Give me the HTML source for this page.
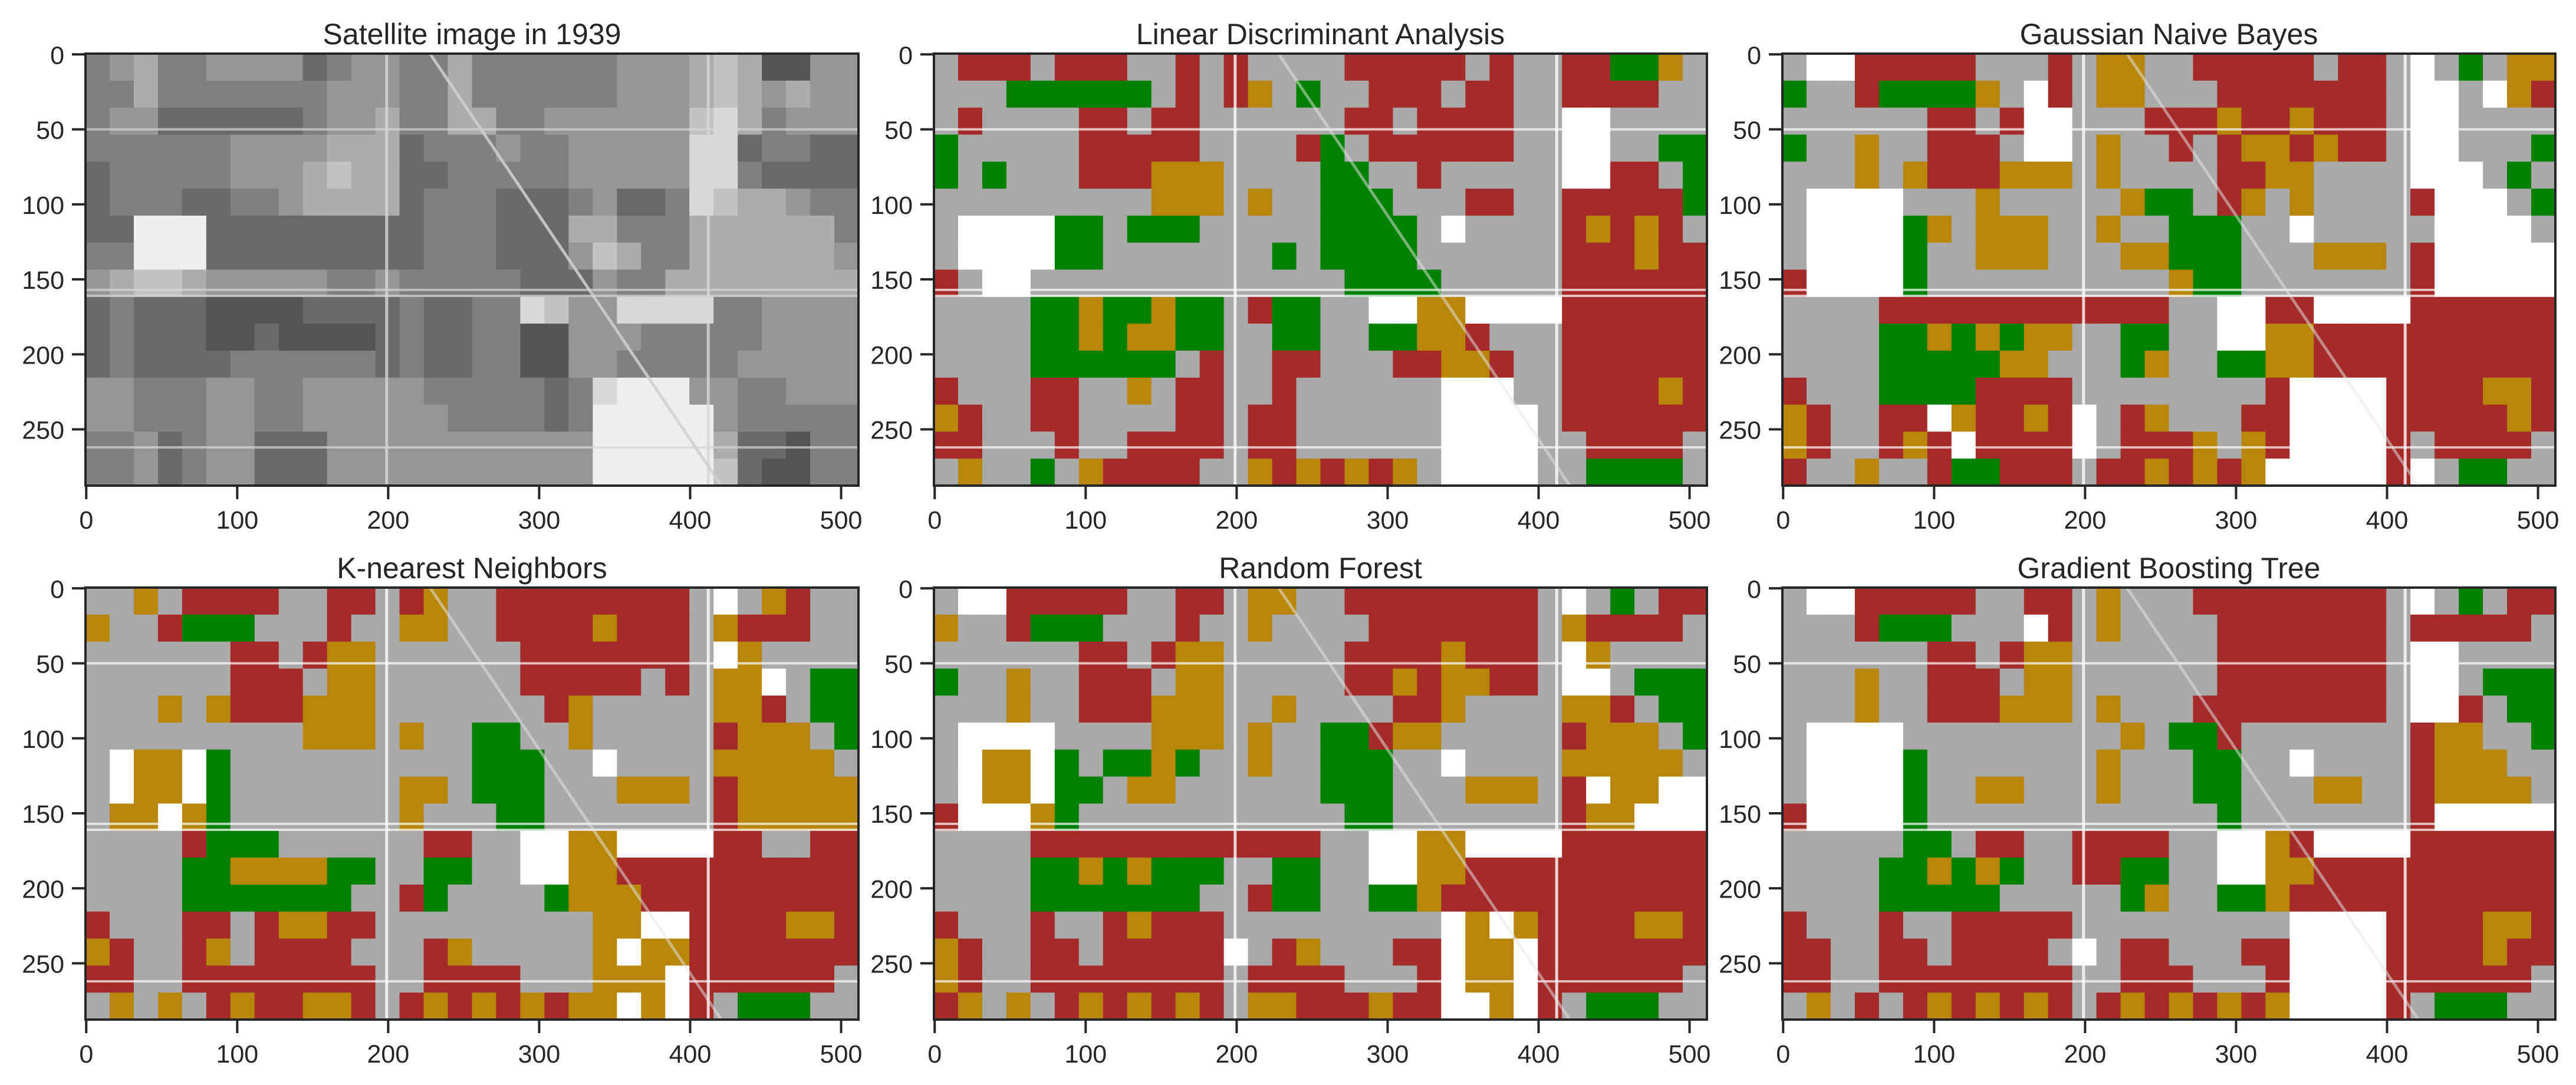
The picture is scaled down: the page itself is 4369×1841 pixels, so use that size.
<!DOCTYPE html>
<html>
<head>
<meta charset="utf-8">
<style>
  html,body{margin:0;padding:0;background:#fff;}
  svg{display:block;}
  text{font-family:"Liberation Sans",Arial,sans-serif;fill:#262626;}
</style>
</head>
<body>
<svg id="fig" width="4369" height="1841" viewBox="0 0 4369 1841" xmlns="http://www.w3.org/2000/svg"></svg>
<script>
// ---- data ----
const xTicks = [0, 100, 200, 300, 400, 500];
const yTicks = [0, 50, 100, 150, 200, 250];
const imgCols = 512;
const imgRows = 288;
const panelTitles = ["Satellite image in 1939", "Linear Discriminant Analysis", "Gaussian Naive Bayes",
                     "K-nearest Neighbors", "Random Forest", "Gradient Boosting Tree"];
const classColors = {R:"#a52a2a", O:"#b8860b", G:"#008000", S:"#a9a9a9", W:"#ffffff"};

// grayscale levels (0 dark .. 9 white) for the 1939 image, 32 cols x 16 rows
const satGrid = [
"45644555534554464444445556762255",
"44644444445554464444445556765655",
"45533333345564466445555557864555",
"44444455556663444544555558834433",
"34444455567663344444555558843333",
"34443344566663444333453348766544",
"33999333333333444333664446666664",
"44999333333333444333576446666665",
"56776555554454444433354466666666",
"34333222233334334487558888445555",
"34333223222234334422555444445555",
"34333344444434334422554444455555",
"55444554455555444443489995544555",
"55444554455555544443499999544444",
"44534553335555555555599999633244",
"44534553335555555555599999732244"
];
const ldaGrid = [
"SRRRSRRRSSRSRSSSSRRRRRSRSSRRGGOS",
"SSSGGGGGGSRSROSGSSRRRSRRSSRRRRSS",
"SRSSSSRRSRRSSSSSSRRSRRRRSSWWSSSS",
"GSSSSSRRRRRSSSSRGSRRRRRRSSWWSSGG",
"GSGSSSRRROOOSSSSGGSSRSSSSSWWRRSG",
"SSSSSSSSSOOOSOSSGGGSSSRRSSRRRRRG",
"SWWWWGGSGGGSSSSSGGGGSWSSSSRORORS",
"SWWWWGGSSSSSSSGSGGGGSSSSSSRRRORR",
"RSWWSSSSSSSSSSSSSGGGGSSSSSRRRRRR",
"SSSSGGOGGOGGSRGGSSWWOOWWWWRRRRRR",
"SSSSGGOGOOGGSSGGSSGGOORSSSRRRRRR",
"SSSSGGGGGGSRSSRRSSSRROORSSRRRRRR",
"RSSSRRSSOSRRSSRSSSSSSWWWSSRRRROR",
"ORSSRRSSSSRRSRRSSSSSSWWWWSRRRRRR",
"RRSSSRSSRRRRSRRSSSSSSWWWWSSRRRRS",
"SOSSGSORRRRSSOROROROSWWWWSSGGGGS"
];
const gnbGrid = [
"SWWRRRRRSSSRSOOSSRRRRRSRRSWSGSOO",
"GSSRGGGGOSWRSOOSSSRRRRRRRSWWSWOR",
"SSSSSSRRSRWWSSSRRRORRORRRSWWSSSS",
"GSSOSSRRRSWWSOSSRSROORORRSWWSSSG",
"SSSOSORRROOOSOSSSSRROOSSSSWWWSGS",
"SWWWWSSSOSSSSSOGGSROSOSSSSRWWWSG",
"SWWWWGOSOOOSSOSSGGGSSWSSSSSWWWWS",
"SWWWWGSSOOOSSSOOGGGSSSOOOSRWWWWW",
"RWWWWGSSSSSSSSSSOGGSSSSSSSRWWWWW",
"SSSSRRRRRRRRRRRRSSWWRRWWWWRRRRRR",
"SSSSGGOGOGOOSSGGSSWWOORRRRRRRRRR",
"SSSSGGGGGOOSSSGOSSGGOORRRRRRRRRR",
"RSSSGGGGRRRRSSSSSSSSRWWWWRRRROOR",
"ORSSRRWORRORWSROSSSRRWWWWRRRRROR",
"ORSSRORWRRRRWSRRROSORWWWWRSRRRRS",
"RSSOSSRGGRRRSRROROROWWWWWRWSGGSS"
];
const knnGrid = [
"SSOSRRRRSSRRSROSSRRRRRRRRSWSORSS",
"OSSRGGGSSSRSSOOSSRRRRORRRSORRRSS",
"SSSSSSRRSROOSSSSSSRRRRRRRSWOSSSS",
"SSSSSSRRRSOOSSSSSSRRRRRSRSOOWSGG",
"SSSOSORRROOOSSSSSSSROSSSSSOORSGG",
"SSSSSSSSSOOOSOSSGGSSOSSSSSROOOSG",
"SWOOWGSSSSSSSSSSGGGSSWSSSSOOOOOS",
"SWOOWGSSSSSSSOOSGGGSSSOOOSROOOOO",
"SOOWOGSSSSSSSOSSSGGSSSSSSSROOOOO",
"SSSSRGGGSSSSSSRRSSWWOOWWWWRRSSRR",
"SSSSGGOOOOGGSSGGSSWWOORRRRRRRRRR",
"SSSSGGGGGGGSSRGSSSSGOOORRRRRRRRR",
"RSSSRRSROORRSSSSSSSSSOOWWRRRROOR",
"ORSSROSRRRRSSSROSSSSSOWOORRRRRRR",
"RRSSRRRRRRRRSSRRRRSSSOOOWRRRRRRS",
"SOSOSRORROORSROROROROOWOWRSGGGSS"
];
const rfGrid = [
"SWWRRRRRSSRRSOOSSRRRRRRRRSWSGSRR",
"OSSRGGGSSSRSSOSSSSRRRRRRRSORRRRS",
"SSSSSSRRSROOSSSSSRRRRORRRSWOSSSS",
"GSSOSSRRRSOOSSSSSRROROORRSWWSGGG",
"SSSOSSRRROOOSSOSSSSRROSSSSOORSGG",
"SWWWWSSSSOOOSOSSGGROOSSSSSROOOSG",
"SWOOWGSGGOGSSOSSGGGSSWSSSSOOOOOS",
"SWOOWGGSOOSSSSSSGGGSSSOOOSRWOOWW",
"RWWWOGSSSSSSSSSSSGGSSSSSSSROOWWW",
"SSSSRRRRRRRRRRRRSSWWOOWWWWRRRRRR",
"SSSSGGOGOGGGSSGGSSWWOORRRRRRRRRR",
"SSSSGGGGGGGSSRGGSSGGORRRRRRRRRRR",
"RSSSRSSRORRRSSSSSSSSSWOWORRRROOR",
"ORSSRRSRRRRRWSROSSSRRWOOWRRRRRRR",
"ORSSRRRRRRRRSRRRRSSSRWOOWRRRRRRS",
"ROSOSRORORORSOORRRORRWWOWRSGGGSS"
];
const gbtGrid = [
"SWWRRRRRSSRRSOSSSRRRRRRRRSWSGSRR",
"SSSRGGGSSSWRSOSSSSRRRRRRRSRRRRRS",
"SSSSSSRRSROOSSSSSSRRRRRRRSWWSSSS",
"SSSOSSRRRSOOSSSSSSRRRRRRRSWWSGGG",
"SSSOSSRRROOOSOSSSRRRRRRRRSWWRSGG",
"SWWWWSSSSSSSSSOSGGRSSSSSSSROOSSG",
"SWWWWGSSSSSSSOSSSGGSSWSSSSROOOSS",
"SWWWWGSSOOSSSOSSSGGSSSOOSSROOOOS",
"RWWWWGSSSSSSSSSSSSGSSSSSSSRWWWWW",
"SSSSSGGSRRSSRRRRSSWWORWWWWRRRRRR",
"SSSSGGOGOGSSRRGGSSWWOORRRRRRRRRR",
"SSSSGGGGGSSSSSGOSSGGORRRRRRRRRRR",
"RSSSRSSRRRRRSSSSSSSSSWWWWRRRROOR",
"RRSSRRSRRRRSWSRRSSSRRWWWWRRRRORR",
"RRSSRRRRRRRRSSRRRSSSRWWWWRRRRRRS",
"SOSRSRORORORSROROROROWWWWRSGGGSS"
];
const classGrids = [ldaGrid, gnbGrid, knnGrid, rfGrid, gbtGrid];
// roads (image units)
const roadXs = [199, 412];
const roadYs = [50, 157, 161, 262];
const diagRoad = [[228, 0], [421, 288]];

// ---- layout ----
const NS = "http://www.w3.org/2000/svg";
const svg = document.getElementById("fig");
const colLefts = [145, 1584, 3023];
const rowTops = [91, 997];
const PW = 1311, PH = 733;
const INK = "#262626";

function mk(tag, attrs, parent) {
  const e = document.createElementNS(NS, tag);
  for (const k in attrs) e.setAttribute(k, attrs[k]);
  (parent || svg).appendChild(e);
  return e;
}

function drawPanel(idx) {
  const left = colLefts[idx % 3], top = rowTops[Math.floor(idx / 3)];
  const sx = PW / imgCols, sy = PH / imgRows;
  const xs = v => left + (v + 0.5) * sx;
  const ys = v => top + (v + 0.5) * sy;
  const g = mk("g", {});
  
  

  const img = mk("g", {}, g);
  
  

  let grid, colorOf;
  if (idx === 0) {
    grid = satGrid;
    colorOf = ch => { const v = 40 + (+ch) * 22; return `rgb(${v},${v},${v})`; };
  } else {
    grid = classGrids[idx - 1];
    colorOf = ch => classColors[ch];
  }
  const nR = grid.length, nC = grid[0].length;
  const cw = imgCols / nC, chh = imgRows / nR;
  for (let r = 0; r < nR; r++) {
    for (let c = 0; c < nC; c++) {
      const x0 = xs(c * cw - 0.5), x1 = xs((c + 1) * cw - 0.5);
      const y0 = ys(r * chh - 0.5), y1 = ys((r + 1) * chh - 0.5);
      const cell = mk("rect", {x: x0, y: y0, width: x1 - x0 + 0.6, height: y1 - y0 + 0.6, fill: colorOf(grid[r][c])}, img);
      
      
    }
  }
  // roads
  const roadColor = idx === 0 ? "#d8d8d8" : "#ffffff";
  roadXs.forEach(v => {
    const l = mk("line", {x1: xs(v), x2: xs(v), y1: top, y2: top + PH, stroke: roadColor, "stroke-width": 5, opacity: 0.8}, img);
    
    
  });
  roadYs.forEach(v => {
    const l = mk("line", {x1: left, x2: left + PW, y1: ys(v), y2: ys(v), stroke: roadColor, "stroke-width": 4, opacity: 0.7}, img);
    
    
  });
  const d = mk("line", {x1: xs(diagRoad[0][0]), y1: ys(diagRoad[0][1]), x2: xs(diagRoad[1][0]), y2: ys(diagRoad[1][1]), stroke: idx === 0 ? "#d0d0d0" : "#e6e6e6", "stroke-width": 5, opacity: idx === 0 ? 0.85 : 0.5}, img);
  
  

  // frame
  const fr = mk("rect", {x: left, y: top, width: PW, height: PH, fill: "none", stroke: INK, "stroke-width": 4}, g);
  
  

  // x ticks
  xTicks.forEach(v => {
    const x = xs(v);
    const t = mk("line", {x1: x, x2: x, y1: top + PH, y2: top + PH + 23, stroke: INK, "stroke-width": 4}, g);
    
    
    const lb = mk("text", {x: x, y: top + PH + 73, "font-size": 43, "text-anchor": "middle"}, g);
    lb.textContent = v;
    
    
  });
  // y ticks
  yTicks.forEach(v => {
    const y = ys(v);
    const t = mk("line", {x1: left - 23, x2: left, y1: y, y2: y, stroke: INK, "stroke-width": 4}, g);
    
    
    const lb = mk("text", {x: left - 36, y: y + 16, "font-size": 43, "text-anchor": "end"}, g);
    lb.textContent = v;
    
    
  });
  // title
  const ti = mk("text", {x: left + PW / 2, y: top - 16, "font-size": 50, "text-anchor": "middle"}, g);
  ti.textContent = panelTitles[idx];
  
  
}

for (let i = 0; i < 6; i++) drawPanel(i);
</script>
</body>
</html>
